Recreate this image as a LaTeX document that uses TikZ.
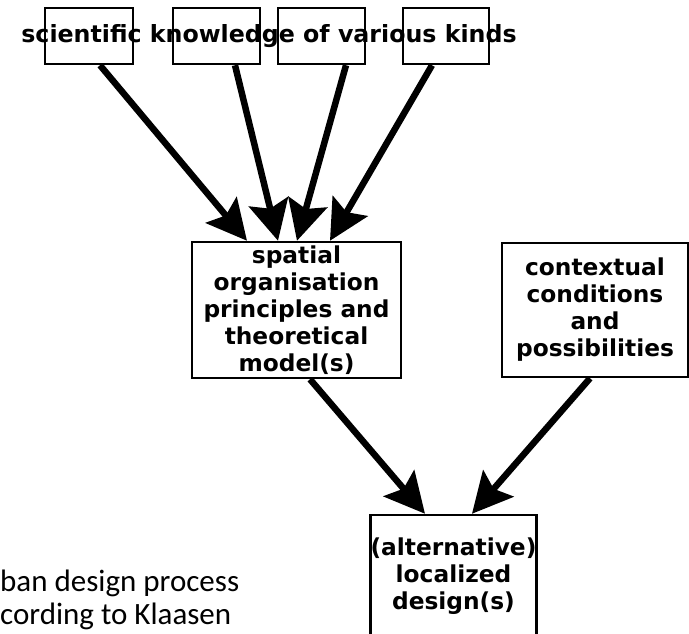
\documentclass[tikz,border=0pt]{standalone}
\usepackage{fontspec}
\setmainfont{DejaVu Sans}
\newfontfamily\capfont{Carlito}
\usetikzlibrary{arrows.meta}

\begin{document}
\begin{tikzpicture}[x=1pt,y=-1pt,
  box/.style={draw,line width=2.5pt,inner sep=0pt},
  lbl/.style={font=\bfseries\fontsize{23.3}{27}\selectfont,align=center},
  arr/.style={line width=6.5pt,-{Stealth[length=40pt,width=40pt,inset=7pt]}}]
\useasboundingbox (0,0) rectangle (689,633);

% source boxes
\node[box,minimum width=88pt,minimum height=56pt] (k1) at (89,36) {};
\node[box,minimum width=87pt,minimum height=56pt] (k2) at (216.5,36) {};
\node[box,minimum width=87pt,minimum height=56pt] (k3) at (321.5,36) {};
\node[box,minimum width=86pt,minimum height=56pt] (k4) at (446,36) {};
\node[lbl,font=\bfseries\fontsize{23.7}{27}\selectfont,anchor=base] (science) at (269,42) {scientific knowledge of various kinds};

% middle and bottom
\node[box,lbl,minimum width=209pt,minimum height=136pt] (model) at (296.5,310)
  {spatial\\organisation\\principles and\\theoretical\\model(s)};
\node[box,lbl,minimum width=186pt,minimum height=134pt] (context) at (595,310)
  {contextual\\conditions\\and\\possibilities};
\node[box,lbl,minimum width=161pt,minimum height=122pt] (design) at (453.5,576)
  {(alternative)\\localized\\design(s)};

% arrows
\draw[arr] ([xshift=11pt]k1.south) -- ([xshift=-49.5pt]model.north);
\draw[arr] ([xshift=18.5pt]k2.south) -- ([xshift=-18.5pt]model.north);
\draw[arr] ([xshift=24.5pt]k3.south) -- ([xshift=0.5pt]model.north);
\draw[arr] ([xshift=-14pt]k4.south) -- ([xshift=33.5pt]model.north);
\draw[arr] ([xshift=13.5pt]model.south) -- ([xshift=-28.5pt]design.north);
\draw[arr] ([xshift=-5pt]context.south) -- ([xshift=18.5pt]design.north);

% caption
\node[font=\capfont\fontsize{31}{35}\selectfont,anchor=base west,inner sep=0pt] (cap1) at (0,591) {ban design process};
\node[font=\capfont\fontsize{31}{35}\selectfont,anchor=base west,inner sep=0pt] (cap2) at (0,624) {cording to Klaasen};
\end{tikzpicture}
\end{document}
